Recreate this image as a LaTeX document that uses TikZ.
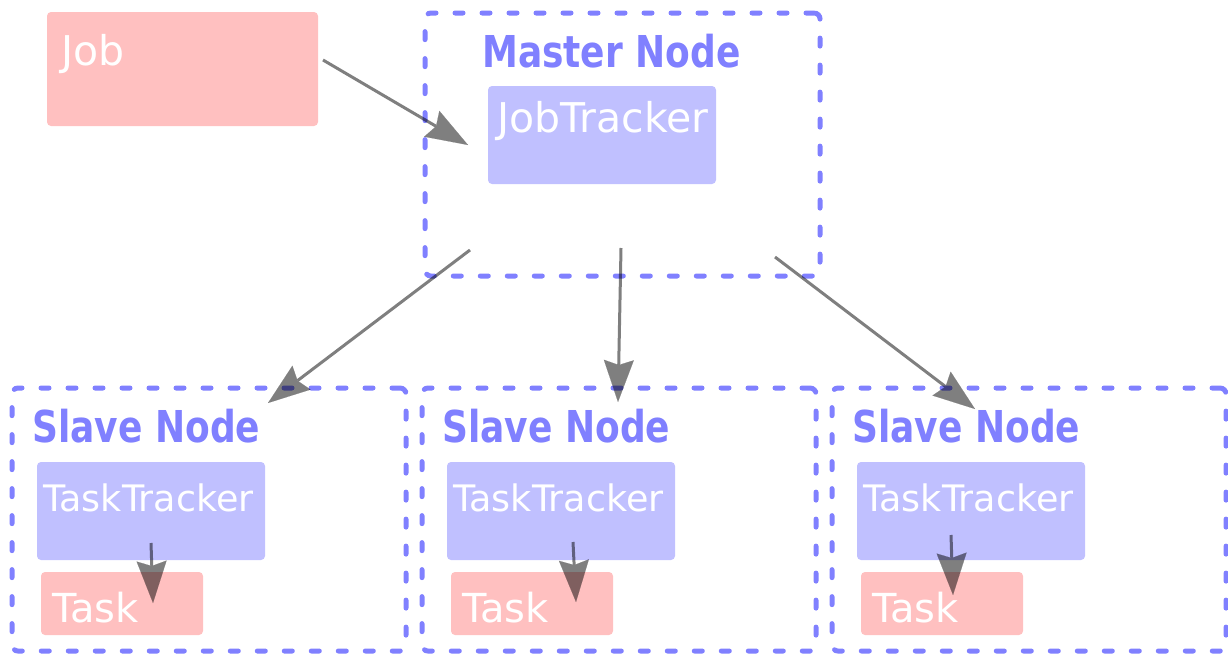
\documentclass[tikz,border=0pt]{standalone}
\usepackage{fontspec}
\setmainfont{DejaVu Sans}
\usetikzlibrary{arrows.meta}
\definecolor{pinkfill}{RGB}{255,192,192}
\definecolor{bluefill}{RGB}{192,192,255}
\definecolor{frameblue}{RGB}{128,128,255}
\newcommand{\tallbold}[1]{\scalebox{1}[1.22]{#1}}
\begin{document}
\begin{tikzpicture}[x=1pt,y=-1pt,
  box/.style={rectangle, rounded corners=4pt, inner sep=0pt, outer sep=0pt, anchor=north west},
  pinkbox/.style={box, fill=pinkfill},
  bluebox/.style={box, fill=bluefill},
  frame/.style={box, draw=frameblue, line width=5pt, dash pattern=on 8pt off 19pt,
    line cap=round, rounded corners=6pt},
  boxtext/.style={text=white, inner sep=0pt, anchor=base west},
  bigtext/.style={boxtext, font=\fontsize{41pt}{49pt}\selectfont},
  tasktext/.style={boxtext, font=\fontsize{40pt}{48pt}\selectfont},
  tttext/.style={boxtext, font=\fontsize{36.5pt}{44pt}\selectfont},
  title/.style={text=frameblue, inner sep=0pt, anchor=base west,
    font=\fontsize{36pt}{43pt}\selectfont\bfseries},
  flow/.style={line width=3pt, draw=black,
    -{Stealth[length=42pt,width=30pt,inset=5pt,line width=0.1pt]}}]
\useasboundingbox (0,0) rectangle (1228,653);

% job submitted by the client
\node[pinkbox, minimum width=271pt, minimum height=114pt] (job) at (47,12) {};
\node[bigtext] (joblbl) at (61,65) {Job};

% master node with its job tracker
\node[frame, minimum width=395pt, minimum height=263pt] (master) at (425,13) {};
\node[title] (mastername) at (482,67) {\tallbold{Master Node}};
\node[bluebox, minimum width=228pt, minimum height=98pt] (jt) at (488,86) {};
\node[bigtext] (jtlbl) at (497,132) {JobTracker};

% three slave nodes, each running a task tracker and a task
\foreach \i in {1,2,3} {
  \pgfmathsetmacro{\dx}{410*(\i-1)}
  \begin{scope}[xshift=\dx pt]
    \node[frame, minimum width=394pt, minimum height=263pt] (s\i) at (12,388) {};
    \node[title] (sname\i) at (32,442) {\tallbold{Slave Node}};
    \node[bluebox, minimum width=228pt, minimum height=98pt] (tt\i) at (37,462) {};
    \node[tttext] (ttlbl\i) at (43,511) {TaskTracker};
    \node[pinkbox, minimum width=162pt, minimum height=63pt] (task\i) at (41,572) {};
    \node[tasktext] (tasklbl\i) at (52,622) {Task};
  \end{scope}
}

% connectors, half transparent over everything
\begin{scope}[transparency group, opacity=0.5]
  % job hand-off and task distribution
  \draw[flow] ([shift={(5,-9)}]job.east) -- ([shift={(-20,10)}]jt.west);
  \draw[flow] ([shift={(-152.5,-26)}]master.south) -- ([shift={(59,15)}]s1.north);
  \draw[flow] ([shift={(-1.5,-28)}]master.south) -- ([shift={(-1,14)}]s2.north);
  \draw[flow] ([shift={(152.5,-19)}]master.south) -- ([shift={(-54,21)}]s3.north);
  % each task tracker launches its task
  \draw[flow] ([shift={(114,-17)}]tt1.south west) -- ([shift={(112,31)}]task1.north west);
  \draw[flow] ([shift={(126,-18)}]tt2.south west) -- ([shift={(125,30)}]task2.north west);
  \draw[flow] ([shift={(94,-25)}]tt3.south west) -- ([shift={(92,23)}]task3.north west);
\end{scope}
\end{tikzpicture}
\end{document}
